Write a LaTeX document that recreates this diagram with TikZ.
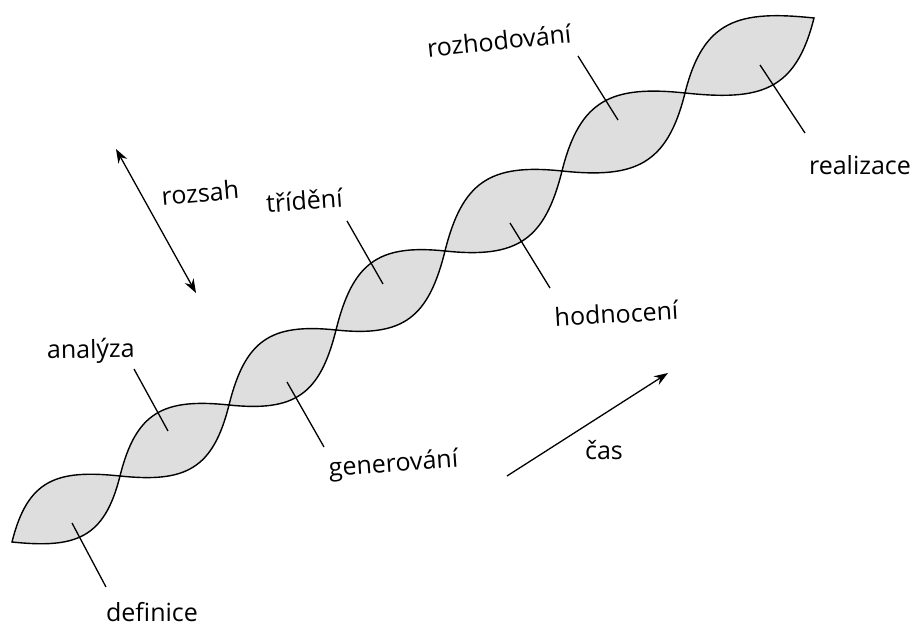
\documentclass[tikz,border=0pt]{standalone}
\usepackage{fontspec}
\setmainfont{Open Sans}
\usetikzlibrary{arrows.meta}
\definecolor{leafgray}{RGB}{222,222,222}

\begin{document}
\begin{tikzpicture}[x=1pt,y=1pt,line width=1.3pt,
  >={Stealth[length=14pt,width=10pt]},
  leaf/.style={draw=black,fill=leafgray,line width=1.4pt,looseness=1.3},
  tag/.style={anchor=base,inner sep=0pt,font=\fontsize{25}{30}\selectfont}]
  \useasboundingbox (0,0) rectangle (924,627);

  % crossing points of the two strands
  \coordinate (c0) at (12,85);
  \coordinate (c1) at (120,151);
  \coordinate (c2) at (229,222);
  \coordinate (c3) at (336,297);
  \coordinate (c4) at (445,376);
  \coordinate (c5) at (562,456);
  \coordinate (c6) at (685,534);
  \coordinate (c7) at (814,609);

  \foreach \a/\b in {c0/c1,c1/c2,c2/c3,c3/c4,c4/c5,c5/c6,c6/c7}
    \draw[leaf] (\a) to[out=76,in=174] (\b) to[out=-104,in=-6] (\a) -- cycle;

  % labels
  \node[tag] (def) at (152,6) {definice};
  \node[tag,rotate=1] (ana) at (91,269) {analýza};
  \node[tag,rotate=4] (gen) at (394,155) {generování};
  \node[tag,rotate=4] (tri) at (305,417) {třídění};
  \node[tag,rotate=3.5] (hod) at (617,304) {hodnocení};
  \node[tag,rotate=6] (roz) at (500,577) {rozhodování};
  \node[tag] (rea) at (860,452) {realizace};
  \node[tag,rotate=5] (rsa) at (201,425) {rozsah};
  \node[tag] (cas) at (604,167) {čas};

  % leader lines
  \coordinate (def-a) at (72,104);   \coordinate (def-b) at (106,40);
  \coordinate (ana-a) at (168,196);  \coordinate (ana-b) at (134,258);
  \coordinate (gen-a) at (287,245);  \coordinate (gen-b) at (324,180);
  \coordinate (tri-a) at (383,343);  \coordinate (tri-b) at (347,406);
  \coordinate (hod-a) at (510,404);  \coordinate (hod-b) at (550,339);
  \coordinate (roz-a) at (618,507);  \coordinate (roz-b) at (578,571);
  \coordinate (rea-a) at (760,562);  \coordinate (rea-b) at (805,494);
  \foreach \n in {def,ana,gen,tri,hod,roz,rea}
    \draw (\n-a) -- (\n-b);

  % arrows
  \coordinate (rsa-a) at (116,478);  \coordinate (rsa-b) at (196,334);
  \coordinate (cas-a) at (507,151);  \coordinate (cas-b) at (668,254);
  \draw[<->] (rsa-a) -- (rsa-b);
  \draw[->] (cas-a) -- (cas-b);
\end{tikzpicture}
\end{document}
